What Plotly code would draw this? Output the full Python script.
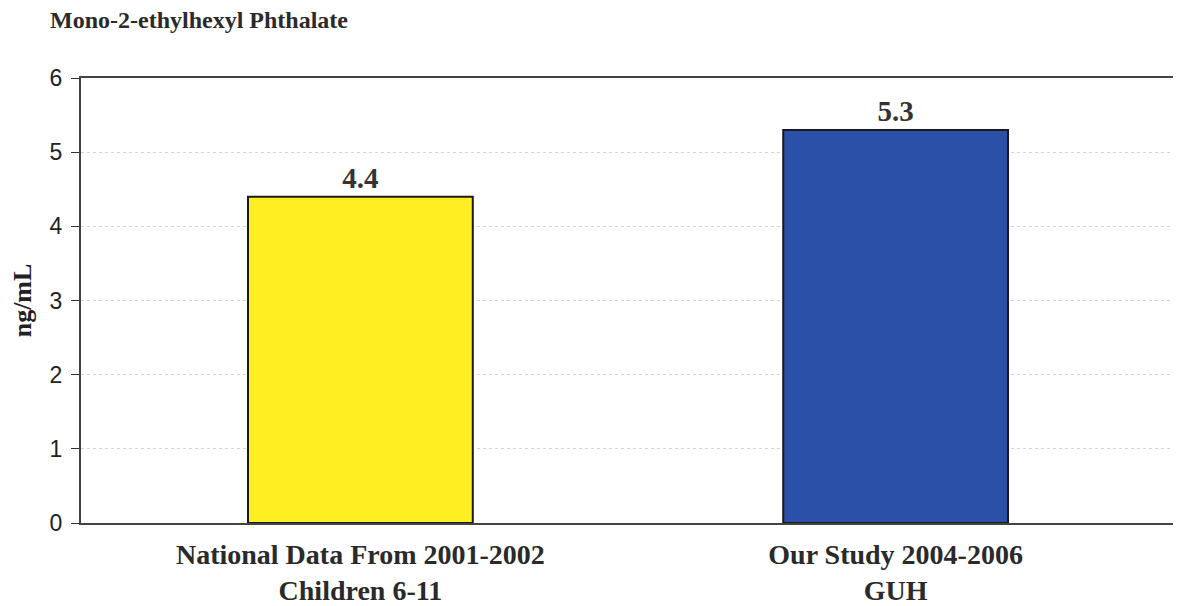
import plotly.graph_objects as go

categories = ["National Data From 2001-2002<br>Children 6-11", "Our Study 2004-2006<br>GUH"]
values = [4.4, 5.3]
bar_colors = ["#FFEE22", "#2B50A8"]
label_text = ["4.4", "5.3"]
y_ticks = [0, 1, 2, 3, 4, 5, 6]

# page body has an 8px margin, so figure is sized/offset to compensate
W, H = 1173, 598

fig = go.Figure()
fig.add_trace(go.Bar(
    x=categories,
    y=values,
    marker=dict(color=bar_colors, line=dict(color="#1a1a1a", width=2)),
    text=["<b>%s</b>" % t for t in label_text],
    textposition="outside",
    textfont=dict(family="Liberation Serif", size=29, color="#333333"),
    cliponaxis=False,
    width=0.42,
))

fig.update_layout(
    width=W, height=H,
    margin=dict(l=73, r=6, t=70, b=83),
    paper_bgcolor="white", plot_bgcolor="white",
    showlegend=False,
    title=dict(text="<b>Mono-2-ethylhexyl Phthalate</b>", x=42 / W, xanchor="left", y=1 - 12 / H, yanchor="middle",
               font=dict(family="Liberation Serif", size=24, color="#2a2a2a")),
    font=dict(family="Liberation Sans", color="#222222"),
)
fig.update_yaxes(
    range=[0, 6], tickvals=y_ticks, ticks="outside", ticklen=8, tickcolor="#333333",
    tickfont=dict(family="Liberation Sans", size=23, color="#222222"),
    ticklabelstandoff=4,
    showgrid=True, gridcolor="#d4d4d4", griddash="dot", gridwidth=1,
    showline=True, linecolor="#444444", linewidth=2, mirror=True,
    zeroline=False, automargin=False,
    title=dict(text="<b>ng/mL</b>", font=dict(family="Liberation Serif", size=26, color="#222222"), standoff=38),
)
fig.update_xaxes(
    range=[-0.522, 1.522],
    showline=True, linecolor="#444444", linewidth=2, mirror=True,
    tickfont=dict(family="Liberation Serif", size=28, color="#2a2a2a"),
    ticks="", showgrid=False, automargin=False, ticklabelstandoff=5,
    tickvals=categories, ticktext=["<b>%s</b>" % c for c in categories],
)

fig.write_html("out.html")
